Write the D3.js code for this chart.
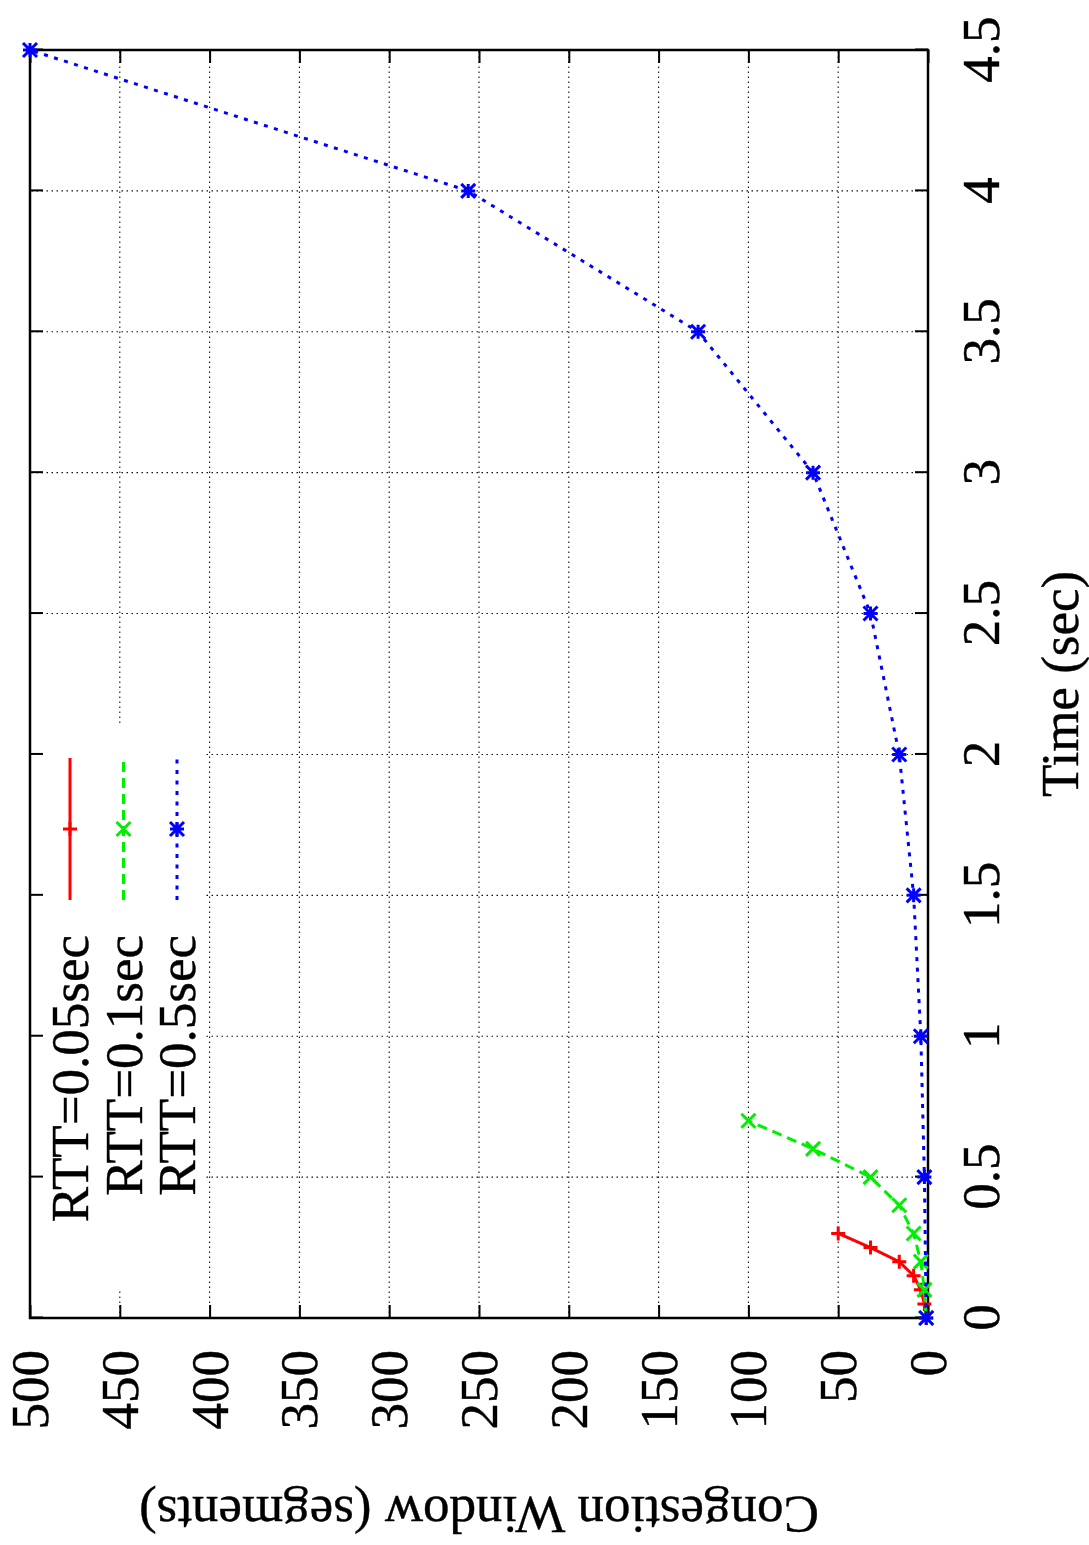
<!doctype html>
<html>
<head>
<meta charset="utf-8">
<title>Congestion Window vs Time</title>
<script src="https://cdn.jsdelivr.net/npm/d3@7"></script>
<style>
  body { margin: 0; background: #fff; }
  svg text { font-family: "Liberation Serif", "Times New Roman", serif; fill: #000; stroke: #000; stroke-width: 0.4px; }
</style>
</head>
<body>
<script>
// data
var timeTicks = [0, 0.5, 1, 1.5, 2, 2.5, 3, 3.5, 4, 4.5];
var cwndTicks = [0, 50, 100, 150, 200, 250, 300, 350, 400, 450, 500];

var rtt005Time = [0, 0.05, 0.1, 0.15, 0.2, 0.25, 0.3];
var rtt005Cwnd = [1, 2, 4, 8, 16, 32, 50];

var rtt01Time = [0, 0.1, 0.2, 0.3, 0.4, 0.5, 0.6, 0.7];
var rtt01Cwnd = [1, 2, 4, 8, 16, 32, 64, 100];

var rtt05Time = [0, 0.5, 1, 1.5, 2, 2.5, 3, 3.5, 4, 4.5];
var rtt05Cwnd = [1, 2, 4, 8, 16, 32, 64, 128, 256, 500];

var seriesNames = ["RTT=0.05sec", "RTT=0.1sec", "RTT=0.5sec"];
var seriesColors = ["#ff0000", "#00ee00", "#0000ff"];

var pageW = 1089, pageH = 1545;
var fs = 53;

var svg = d3.select("body").append("svg")
  .attr("width", pageW).attr("height", pageH);

// whole plot is drawn landscape then turned 90deg ccw (like the original figure)
var g = svg.append("g").attr("transform", "translate(0," + pageH + ") rotate(-90)");

var x = d3.scaleLinear().domain([0, 4.5]).range([227, 1495]);
var y = d3.scaleLinear().domain([0, 500]).range([928, 30]);

var series = [
  { name: seriesNames[0], color: seriesColors[0], t: rtt005Time, c: rtt005Cwnd, dash: null, mark: "plus" },
  { name: seriesNames[1], color: seriesColors[1], t: rtt01Time, c: rtt01Cwnd, dash: "10,6", mark: "cross" },
  { name: seriesNames[2], color: seriesColors[2], t: rtt05Time, c: rtt05Cwnd, dash: "4,6.5", mark: "star" }
];

// grid
var grid = g.append("g").attr("stroke", "#111").attr("stroke-width", 1.1).attr("stroke-dasharray", "1.5,3.5");
grid.selectAll(".gx").data(timeTicks.slice(1, -1)).enter().append("line")
  .attr("x1", function(d) { return x(d); }).attr("x2", function(d) { return x(d); })
  .attr("y1", y(0)).attr("y2", y(500));
grid.selectAll(".gy").data(cwndTicks.slice(1, -1)).enter().append("line")
  .attr("x1", x(0)).attr("x2", x(4.5))
  .attr("y1", function(d) { return y(d); }).attr("y2", function(d) { return y(d); });

// opaque key box
g.append("rect").attr("x", 255).attr("y", 31).attr("width", 564).attr("height", 172).attr("fill", "#fff");

// axes with inward ticks
var fmt = function(d) { return String(d); };
var xa = g.append("g").attr("transform", "translate(0," + y(0) + ")")
  .call(d3.axisBottom(x).tickValues(timeTicks).tickFormat(fmt).tickSize(-13).tickSizeOuter(0).tickPadding(33));
var xt = g.append("g").attr("transform", "translate(0," + y(500) + ")")
  .call(d3.axisTop(x).tickValues(timeTicks).tickFormat("").tickSize(-13).tickSizeOuter(0));
var ya = g.append("g").attr("transform", "translate(" + x(0) + ",0)")
  .call(d3.axisLeft(y).tickValues(cwndTicks).tickFormat(fmt).tickSize(-13).tickSizeOuter(0).tickPadding(32));
var yr = g.append("g").attr("transform", "translate(" + x(4.5) + ",0)")
  .call(d3.axisRight(y).tickValues(cwndTicks).tickFormat("").tickSize(-13).tickSizeOuter(0));

[xa, xt, ya, yr].forEach(function(a) {
  a.select(".domain").remove();
  a.selectAll(".tick line").attr("stroke", "#000").attr("stroke-width", 2);
  a.selectAll("text").attr("font-size", fs).attr("font-family", null).attr("fill", "#000");
});
ya.selectAll("text").attr("dy", "0.33em");

// border
g.append("rect").attr("x", x(0)).attr("y", y(500))
  .attr("width", x(4.5) - x(0)).attr("height", y(0) - y(500))
  .attr("fill", "none").attr("stroke", "#000").attr("stroke-width", 2.5);

// axis titles
g.append("text").attr("x", (x(0) + x(4.5)) / 2).attr("y", 1078)
  .attr("text-anchor", "middle").attr("font-size", fs).text("Time (sec)");
g.append("text").attr("transform", "translate(48," + (y(0) + y(500)) / 2 + ") rotate(-90)")
  .attr("text-anchor", "middle").attr("font-size", fs).text("Congestion Window (segments)");

function marker(sel, type, color) {
  var s = 7;
  var p = "";
  if (type === "plus" || type === "star") p += "M" + (-s) + ",0H" + s + "M0," + (-s) + "V" + s;
  if (type === "cross" || type === "star") p += "M" + (-s) + "," + (-s) + "L" + s + "," + s + "M" + (-s) + "," + s + "L" + s + "," + (-s);
  sel.append("path").attr("d", p).attr("stroke", color).attr("stroke-width", 3).attr("fill", "none");
}

var line = d3.line().x(function(d) { return x(d[0]); }).y(function(d) { return y(d[1]); });

series.forEach(function(s) {
  var pts = s.t.map(function(t, i) { return [t, s.c[i]]; });
  g.append("path").datum(pts).attr("d", line)
    .attr("fill", "none").attr("stroke", s.color).attr("stroke-width", 3)
    .attr("stroke-dasharray", s.dash);
  pts.forEach(function(p) {
    var m = g.append("g").attr("transform", "translate(" + x(p[0]) + "," + y(p[1]) + ")");
    marker(m, s.mark, s.color);
  });
});

// key
var keyRows = [70, 123.5, 177];
series.forEach(function(s, i) {
  var cy = keyRows[i];
  g.append("text").attr("x", 610).attr("y", cy).attr("dy", "0.34em")
    .attr("text-anchor", "end").attr("font-size", fs).text(s.name);
  g.append("line").attr("x1", 645).attr("x2", 787).attr("y1", cy).attr("y2", cy)
    .attr("stroke", s.color).attr("stroke-width", 3).attr("stroke-dasharray", s.dash);
  var m = g.append("g").attr("transform", "translate(716," + cy + ")");
  marker(m, s.mark, s.color);
});
</script>
</body>
</html>
